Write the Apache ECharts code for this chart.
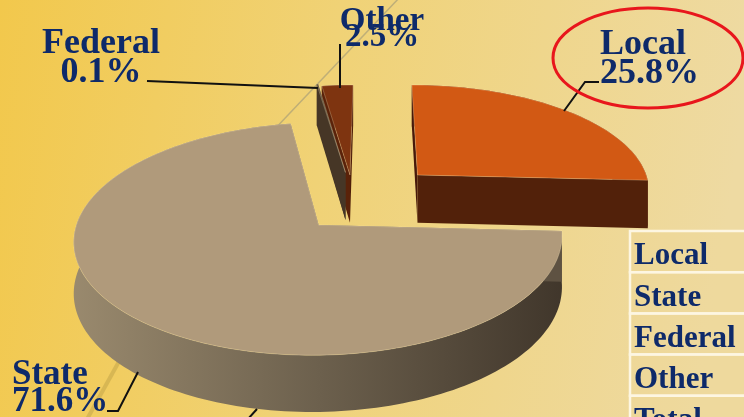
<!DOCTYPE html>
<html><head><meta charset="utf-8">
<script src="https://cdn.jsdelivr.net/npm/echarts@6.0.0/dist/echarts.min.js"></script>
<style>html,body{margin:0;padding:0;overflow:hidden;}#c{width:744px;height:417px;}</style>
</head><body><div id="c"></div>
<script>
// ---- data ----
const categories = ['Local', 'State', 'Federal', 'Other'];
const shares = [25.8, 71.6, 0.1, 2.5];
const tableRows = ['Local', 'State', 'Federal', 'Other', 'Total'];

// ---- style / layout ----
const PIE = { cx: 374, cy: 197.4, rx: 235, ry: 109.6, k: 0.126, depth: 49 };
const EXPLODE = { Local: [0.19, -0.21], State: [-0.2285, 0.245], Federal: [-0.125, -0.235], Other: [-0.105, -0.21] };
const STYLE = {
  Local:   { z: 20, top: '#d25914', side: '#5a240b', f0: '#47190a', f1: '#52210a' },
  State:   { z: 30, top: '#b09a7b',
             side: { type: 'linear', x: 70, y: 0, x2: 570, y2: 0, global: true,
                     colorStops: [{ offset: 0, color: '#9a8a6e' }, { offset: 0.5, color: '#6c604d' }, { offset: 1, color: '#3f352a' }] },
             f0: '#5e5242', f1: '#5e5242' },
  Federal: { z: 15, top: '#4c3b29', side: '#463626', f0: '#463626', f1: '#463626' },
  Other:   { z: 10, top: '#7e3410', side: '#4e1d08', f0: '#5a2209', f1: '#4e1d08' }
};
const NAVY = '#0e2a6a';
const FONT = '"Liberation Serif", "Times New Roman", serif';

const total = shares.reduce((a, b) => a + b, 0);
let cum = 0;
const angles = shares.map(v => { const a0 = cum / total * 360; cum += v; return [a0, cum / total * 360]; });

function renderItem(params, api) {
  const i = api.value(0);
  const name = categories[i];
  const a0 = angles[i][0], a1 = angles[i][1];
  const off = EXPLODE[name];
  const st = STYLE[name];
  const pt = (deg, r, h) => {
    const t = deg * Math.PI / 180;
    const U = off[0] + r * Math.sin(t), V = off[1] - r * Math.cos(t);
    const s = 1 + PIE.k * V;
    return [PIE.cx + U * PIE.rx * s, PIE.cy + V * PIE.ry * s + h * s];
  };
  const n = Math.max(2, Math.ceil((a1 - a0) / 1.5));
  const topArc = [], botArc = [];
  for (let j = 0; j <= n; j++) {
    const a = a0 + (a1 - a0) * j / n;
    topArc.push(pt(a, 1, 0));
    botArc.push(pt(a, 1, PIE.depth));
  }
  const cTop = pt(0, 0, 0), cBot = pt(0, 0, PIE.depth);
  const b = st.z;
  return {
    type: 'group',
    children: [
      { type: 'polygon', z2: b + 1, shape: { points: topArc.concat(botArc.slice().reverse()) }, style: { fill: st.side } },
      { type: 'polygon', z2: b + 2, shape: { points: [cTop, topArc[0], botArc[0], cBot] }, style: { fill: st.f0 } },
      { type: 'polygon', z2: b + 2, shape: { points: [cTop, topArc[n], botArc[n], cBot] }, style: { fill: st.f1 } },
      { type: 'polygon', z2: b + 5, shape: { points: [cTop].concat(topArc) },
        style: { fill: st.top, stroke: 'rgba(255,235,190,0.35)', lineWidth: 0.8 } }
    ]
  };
}

function label(x, baseline, text, size, lh, align) {
  return { type: 'text', z: 100, x: x, y: baseline - lh / 2 - 0.34 * size,
    style: { text: text, fill: NAVY, font: 'bold ' + size + 'px ' + FONT, textAlign: align, textVerticalAlign: 'top', lineHeight: lh } };
}
function line(points, w, color, z) {
  return { type: 'polyline', z: z == null ? 90 : z, shape: { points: points }, style: { stroke: color || '#111', lineWidth: w || 2, fill: null } };
}
const pct = i => shares[i].toFixed(1) + '%';

const graphics = [
  { type: 'rect', z: -20, shape: { x: 0, y: 0, width: 744, height: 417 },
    style: { fill: { type: 'linear', x: 0, y: 0, x2: 1, y2: 0.25,
      colorStops: [{ offset: 0, color: '#f2c84c' }, { offset: 0.45, color: '#f0d276' }, { offset: 1, color: '#eedaa2' }] } } },
  line([[215, 192], [400, -3]], 1.5, 'rgba(170,160,120,0.7)', -10),
  line([[86, 421], [132, 338]], 4, 'rgba(210,178,80,0.8)', -10),
  // leaders
  line([[147, 81], [318, 88]], 2),
  line([[340, 44], [340, 88]], 2),
  line([[564, 111], [585, 82], [599, 82]], 2),
  line([[107, 411], [118, 411], [138, 372]], 2),
  line([[257, 409], [248, 419]], 2),
  // labels
  label(101, 56, categories[2] + '\n' + pct(2), 36, 29, 'center'),
  label(382, 33, categories[3] + '\n' + pct(3), 33, 16, 'center'),
  label(600, 57, categories[0] + '\n' + pct(0), 36, 29, 'left'),
  label(12, 387, categories[1] + '\n' + pct(1), 35, 27, 'left'),
  // highlight ellipse
  { type: 'ellipse', z: 95, shape: { cx: 648, cy: 58, rx: 95, ry: 50 }, style: { fill: null, stroke: '#e8161c', lineWidth: 3 } }
];
tableRows.forEach((r, i) => {
  const top = 231 + i * 41.2;
  graphics.push({ type: 'rect', z: 50, shape: { x: 630, y: top, width: 200, height: 41.2 },
    style: { fill: 'rgba(238,214,150,0.35)', stroke: '#fdf6e2', lineWidth: 2.5 } });
  graphics.push(label(634, top + 36, r, 31, 34, 'left'));
});

const chart = echarts.init(document.getElementById('c'), null, { renderer: 'canvas' });
chart.setOption({
  animation: false,
  graphic: { elements: graphics },
  series: [{
    type: 'custom',
    coordinateSystem: 'none',
    renderItem: renderItem,
    data: categories.map((c, i) => ({ name: c, value: [i, shares[i]] })),
    silent: true
  }]
});
</script>
</body></html>
